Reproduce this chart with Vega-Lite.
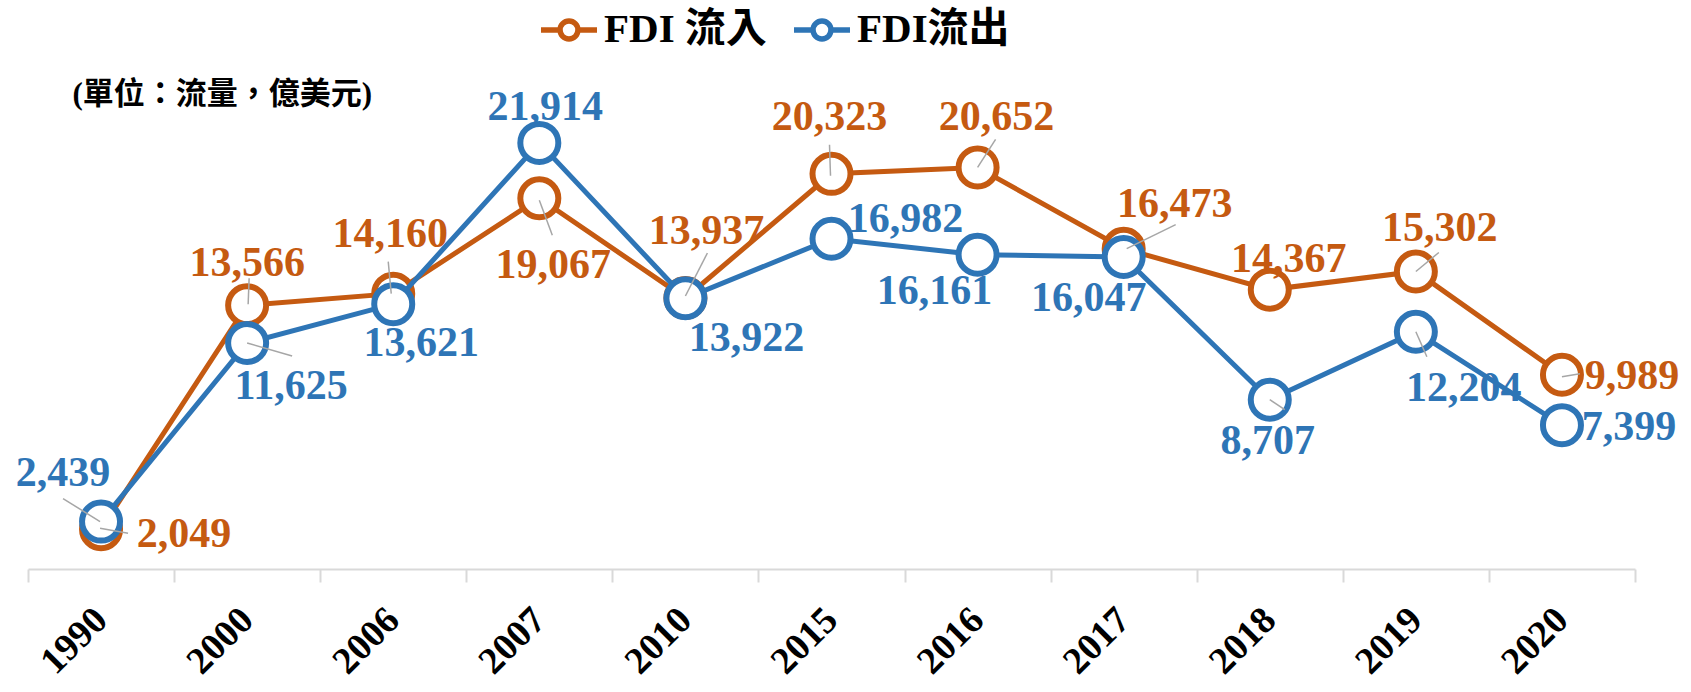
{
"$schema":"https://vega.github.io/schema/vega-lite/v6.json",
"width":1607,"height":490,"autosize":"none",
"padding":{"left":28,"top":79,"right":56,"bottom":123},
"background":"white",
"config":{"view":{"stroke":null}},
"data":{"values":[
{"year":"1990","s":"FDI 流入","v":2049},{"year":"2000","s":"FDI 流入","v":13566},{"year":"2006","s":"FDI 流入","v":14160},{"year":"2007","s":"FDI 流入","v":19067},{"year":"2010","s":"FDI 流入","v":13937},{"year":"2015","s":"FDI 流入","v":20323},{"year":"2016","s":"FDI 流入","v":20652},{"year":"2017","s":"FDI 流入","v":16473},{"year":"2018","s":"FDI 流入","v":14367},{"year":"2019","s":"FDI 流入","v":15302},{"year":"2020","s":"FDI 流入","v":9989},
{"year":"1990","s":"FDI流出","v":2439},{"year":"2000","s":"FDI流出","v":11625},{"year":"2006","s":"FDI流出","v":13621},{"year":"2007","s":"FDI流出","v":21914},{"year":"2010","s":"FDI流出","v":13922},{"year":"2015","s":"FDI流出","v":16982},{"year":"2016","s":"FDI流出","v":16161},{"year":"2017","s":"FDI流出","v":16047},{"year":"2018","s":"FDI流出","v":8707},{"year":"2019","s":"FDI流出","v":12204},{"year":"2020","s":"FDI流出","v":7399}
]},
"encoding":{
"x":{"field":"year","type":"ordinal","sort":null,"scale":{"paddingInner":0,"paddingOuter":0},
 "axis":{"title":null,"domainColor":"#D9D9D9","domainWidth":2,"ticks":true,"tickBand":"extent","tickColor":"#D9D9D9","tickWidth":2,"tickSize":13,"grid":false,"labelAngle":-45,"labelAlign":"right","labelBaseline":"middle","labelPadding":32,"labelFont":"Liberation Serif","labelFontSize":38,"labelFontWeight":"bold","labelColor":"black"}},
"y":{"field":"v","type":"quantitative","scale":{"domain":[0,25200],"nice":false},
 "axis":{"title":"(單位：流量，億美元)","domain":false,"ticks":false,"labels":false,"grid":false,"titleAngle":0,"titleAlign":"left","titleBaseline":"middle","titleX":44,"titleY":15,"titleFont":"Liberation Serif, Noto Sans CJK TC","titleFontSize":31,"titleFontWeight":"bold","titleColor":"black"}}
},
"layer":[
{"encoding":{"color":{"field":"s","type":"nominal","scale":{"domain":["FDI 流入","FDI流出"],"range":["#C55A11","#2E75B6"]},
 "legend":{"orient":"none","legendX":510,"legendY":-80,"direction":"horizontal","title":null,"symbolType":"M-1,0L-0.32,0A0.32,0.32,0,1,1,0.32,0A0.32,0.32,0,1,1,-0.32,0A0.32,0.32,0,1,0,0.32,0A0.32,0.32,0,1,0,-0.32,0M0.32,0L1,0","symbolSize":3136,"symbolStrokeWidth":5.5,"labelFont":"Liberation Serif, Noto Sans CJK TC","labelFontSize":41,"labelFontWeight":"bold","labelColor":"black","labelOffset":4,"columnPadding":16,"labelLimit":400,
  "encode":{"symbols":{"update":{"strokeWidth":{"value":5.5}}}}}}},
 "layer":[
{"transform":[{"filter":"datum.s=='FDI 流入'"}],"mark":{"type":"line","strokeWidth":5}},
{"transform":[{"filter":"datum.s=='FDI 流入'"}],"mark":{"type":"point","filled":false,"fill":"white","opacity":1,"size":1444,"strokeWidth":6}},
{"transform":[{"filter":"datum.s=='FDI流出'"}],"mark":{"type":"line","strokeWidth":5}},
{"transform":[{"filter":"datum.s=='FDI流出'"}],"mark":{"type":"point","filled":false,"fill":"white","opacity":1,"size":1444,"strokeWidth":6}}
 ]},
{"encoding":{"color":{"value":"#A6A6A6"},"x2":{"field":"year"},"y2":{"field":"v"}},
 "layer":[
{"transform":[{"filter":"datum.s=='FDI 流入'&&datum.year=='1990'"}],"mark":{"type":"rule","xOffset":-1,"yOffset":-1,"x2Offset":27,"y2Offset":4,"strokeWidth":1.5}},
{"transform":[{"filter":"datum.s=='FDI流出'&&datum.year=='1990'"}],"mark":{"type":"rule","xOffset":-38,"yOffset":-23,"x2Offset":-1,"y2Offset":0,"strokeWidth":1.5}},
{"transform":[{"filter":"datum.s=='FDI 流入'&&datum.year=='2000'"}],"mark":{"type":"rule","xOffset":2,"yOffset":-27,"x2Offset":1,"y2Offset":-1,"strokeWidth":1.5}},
{"transform":[{"filter":"datum.s=='FDI流出'&&datum.year=='2000'"}],"mark":{"type":"rule","xOffset":0,"yOffset":0,"x2Offset":45,"y2Offset":13,"strokeWidth":1.5}},
{"transform":[{"filter":"datum.s=='FDI 流入'&&datum.year=='2006'"}],"mark":{"type":"rule","xOffset":-5,"yOffset":-32,"x2Offset":-2,"y2Offset":0,"strokeWidth":1.5}},
{"transform":[{"filter":"datum.s=='FDI 流入'&&datum.year=='2007'"}],"mark":{"type":"rule","xOffset":0,"yOffset":2,"x2Offset":13,"y2Offset":37,"strokeWidth":1.5}},
{"transform":[{"filter":"datum.s=='FDI 流入'&&datum.year=='2010'"}],"mark":{"type":"rule","xOffset":0,"yOffset":-2,"x2Offset":22,"y2Offset":-45,"strokeWidth":1.5}},
{"transform":[{"filter":"datum.s=='FDI 流入'&&datum.year=='2015'"}],"mark":{"type":"rule","xOffset":-2,"yOffset":-29,"x2Offset":-1,"y2Offset":2,"strokeWidth":1.5}},
{"transform":[{"filter":"datum.s=='FDI 流入'&&datum.year=='2016'"}],"mark":{"type":"rule","xOffset":0,"yOffset":0,"x2Offset":18,"y2Offset":-28,"strokeWidth":1.5}},
{"transform":[{"filter":"datum.s=='FDI 流入'&&datum.year=='2017'"}],"mark":{"type":"rule","xOffset":3,"yOffset":0,"x2Offset":52,"y2Offset":-24,"strokeWidth":1.5}},
{"transform":[{"filter":"datum.s=='FDI 流入'&&datum.year=='2019'"}],"mark":{"type":"rule","xOffset":0,"yOffset":0,"x2Offset":23,"y2Offset":-19,"strokeWidth":1.5}},
{"transform":[{"filter":"datum.s=='FDI流出'&&datum.year=='2019'"}],"mark":{"type":"rule","xOffset":0,"yOffset":0,"x2Offset":11,"y2Offset":25,"strokeWidth":1.5}},
{"transform":[{"filter":"datum.s=='FDI流出'&&datum.year=='2018'"}],"mark":{"type":"rule","xOffset":0,"yOffset":0,"x2Offset":15,"y2Offset":10,"strokeWidth":1.5}},
{"transform":[{"filter":"datum.s=='FDI 流入'&&datum.year=='2020'"}],"mark":{"type":"rule","xOffset":0,"yOffset":2,"x2Offset":18,"y2Offset":-1,"strokeWidth":1.5}}
 ]},
{"encoding":{"text":{"field":"v","format":","},"fill":{"field":"s","type":"nominal","scale":{"domain":["FDI 流入","FDI流出"],"range":["#C55A11","#2E75B6"]},"legend":null}},
 "layer":[
{"transform":[{"filter":"datum.s=='FDI 流入'&&datum.year=='1990'"}],"mark":{"type":"text","dx":83,"dy":5,"font":"Liberation Serif","fontSize":42,"fontWeight":"bold","baseline":"middle"}},
{"transform":[{"filter":"datum.s=='FDI 流入'&&datum.year=='2000'"}],"mark":{"type":"text","dx":0,"dy":-42,"font":"Liberation Serif","fontSize":42,"fontWeight":"bold","baseline":"middle"}},
{"transform":[{"filter":"datum.s=='FDI 流入'&&datum.year=='2006'"}],"mark":{"type":"text","dx":-3,"dy":-60,"font":"Liberation Serif","fontSize":42,"fontWeight":"bold","baseline":"middle"}},
{"transform":[{"filter":"datum.s=='FDI 流入'&&datum.year=='2007'"}],"mark":{"type":"text","dx":14,"dy":67,"font":"Liberation Serif","fontSize":42,"fontWeight":"bold","baseline":"middle"}},
{"transform":[{"filter":"datum.s=='FDI 流入'&&datum.year=='2010'"}],"mark":{"type":"text","dx":21,"dy":-67,"font":"Liberation Serif","fontSize":42,"fontWeight":"bold","baseline":"middle"}},
{"transform":[{"filter":"datum.s=='FDI 流入'&&datum.year=='2015'"}],"mark":{"type":"text","dx":-2,"dy":-57,"font":"Liberation Serif","fontSize":42,"fontWeight":"bold","baseline":"middle"}},
{"transform":[{"filter":"datum.s=='FDI 流入'&&datum.year=='2016'"}],"mark":{"type":"text","dx":19,"dy":-50,"font":"Liberation Serif","fontSize":42,"fontWeight":"bold","baseline":"middle"}},
{"transform":[{"filter":"datum.s=='FDI 流入'&&datum.year=='2017'"}],"mark":{"type":"text","dx":51,"dy":-45,"font":"Liberation Serif","fontSize":42,"fontWeight":"bold","baseline":"middle"}},
{"transform":[{"filter":"datum.s=='FDI 流入'&&datum.year=='2018'"}],"mark":{"type":"text","dx":19,"dy":-31,"font":"Liberation Serif","fontSize":42,"fontWeight":"bold","baseline":"middle"}},
{"transform":[{"filter":"datum.s=='FDI 流入'&&datum.year=='2019'"}],"mark":{"type":"text","dx":24,"dy":-43,"font":"Liberation Serif","fontSize":42,"fontWeight":"bold","baseline":"middle"}},
{"transform":[{"filter":"datum.s=='FDI 流入'&&datum.year=='2020'"}],"mark":{"type":"text","dx":70,"dy":1,"font":"Liberation Serif","fontSize":42,"fontWeight":"bold","baseline":"middle"}},
{"transform":[{"filter":"datum.s=='FDI流出'&&datum.year=='1990'"}],"mark":{"type":"text","dx":-38,"dy":-49,"font":"Liberation Serif","fontSize":42,"fontWeight":"bold","baseline":"middle"}},
{"transform":[{"filter":"datum.s=='FDI流出'&&datum.year=='2000'"}],"mark":{"type":"text","dx":44,"dy":43,"font":"Liberation Serif","fontSize":42,"fontWeight":"bold","baseline":"middle"}},
{"transform":[{"filter":"datum.s=='FDI流出'&&datum.year=='2006'"}],"mark":{"type":"text","dx":28,"dy":39,"font":"Liberation Serif","fontSize":42,"fontWeight":"bold","baseline":"middle"}},
{"transform":[{"filter":"datum.s=='FDI流出'&&datum.year=='2007'"}],"mark":{"type":"text","dx":6,"dy":-36,"font":"Liberation Serif","fontSize":42,"fontWeight":"bold","baseline":"middle"}},
{"transform":[{"filter":"datum.s=='FDI流出'&&datum.year=='2010'"}],"mark":{"type":"text","dx":61,"dy":40,"font":"Liberation Serif","fontSize":42,"fontWeight":"bold","baseline":"middle"}},
{"transform":[{"filter":"datum.s=='FDI流出'&&datum.year=='2015'"}],"mark":{"type":"text","dx":74,"dy":-20,"font":"Liberation Serif","fontSize":42,"fontWeight":"bold","baseline":"middle"}},
{"transform":[{"filter":"datum.s=='FDI流出'&&datum.year=='2016'"}],"mark":{"type":"text","dx":-43,"dy":36,"font":"Liberation Serif","fontSize":42,"fontWeight":"bold","baseline":"middle"}},
{"transform":[{"filter":"datum.s=='FDI流出'&&datum.year=='2017'"}],"mark":{"type":"text","dx":-35,"dy":41,"font":"Liberation Serif","fontSize":42,"fontWeight":"bold","baseline":"middle"}},
{"transform":[{"filter":"datum.s=='FDI流出'&&datum.year=='2018'"}],"mark":{"type":"text","dx":-2,"dy":41,"font":"Liberation Serif","fontSize":42,"fontWeight":"bold","baseline":"middle"}},
{"transform":[{"filter":"datum.s=='FDI流出'&&datum.year=='2019'"}],"mark":{"type":"text","dx":48,"dy":56,"font":"Liberation Serif","fontSize":42,"fontWeight":"bold","baseline":"middle"}},
{"transform":[{"filter":"datum.s=='FDI流出'&&datum.year=='2020'"}],"mark":{"type":"text","dx":67,"dy":2,"font":"Liberation Serif","fontSize":42,"fontWeight":"bold","baseline":"middle"}}
 ]}
]
}
